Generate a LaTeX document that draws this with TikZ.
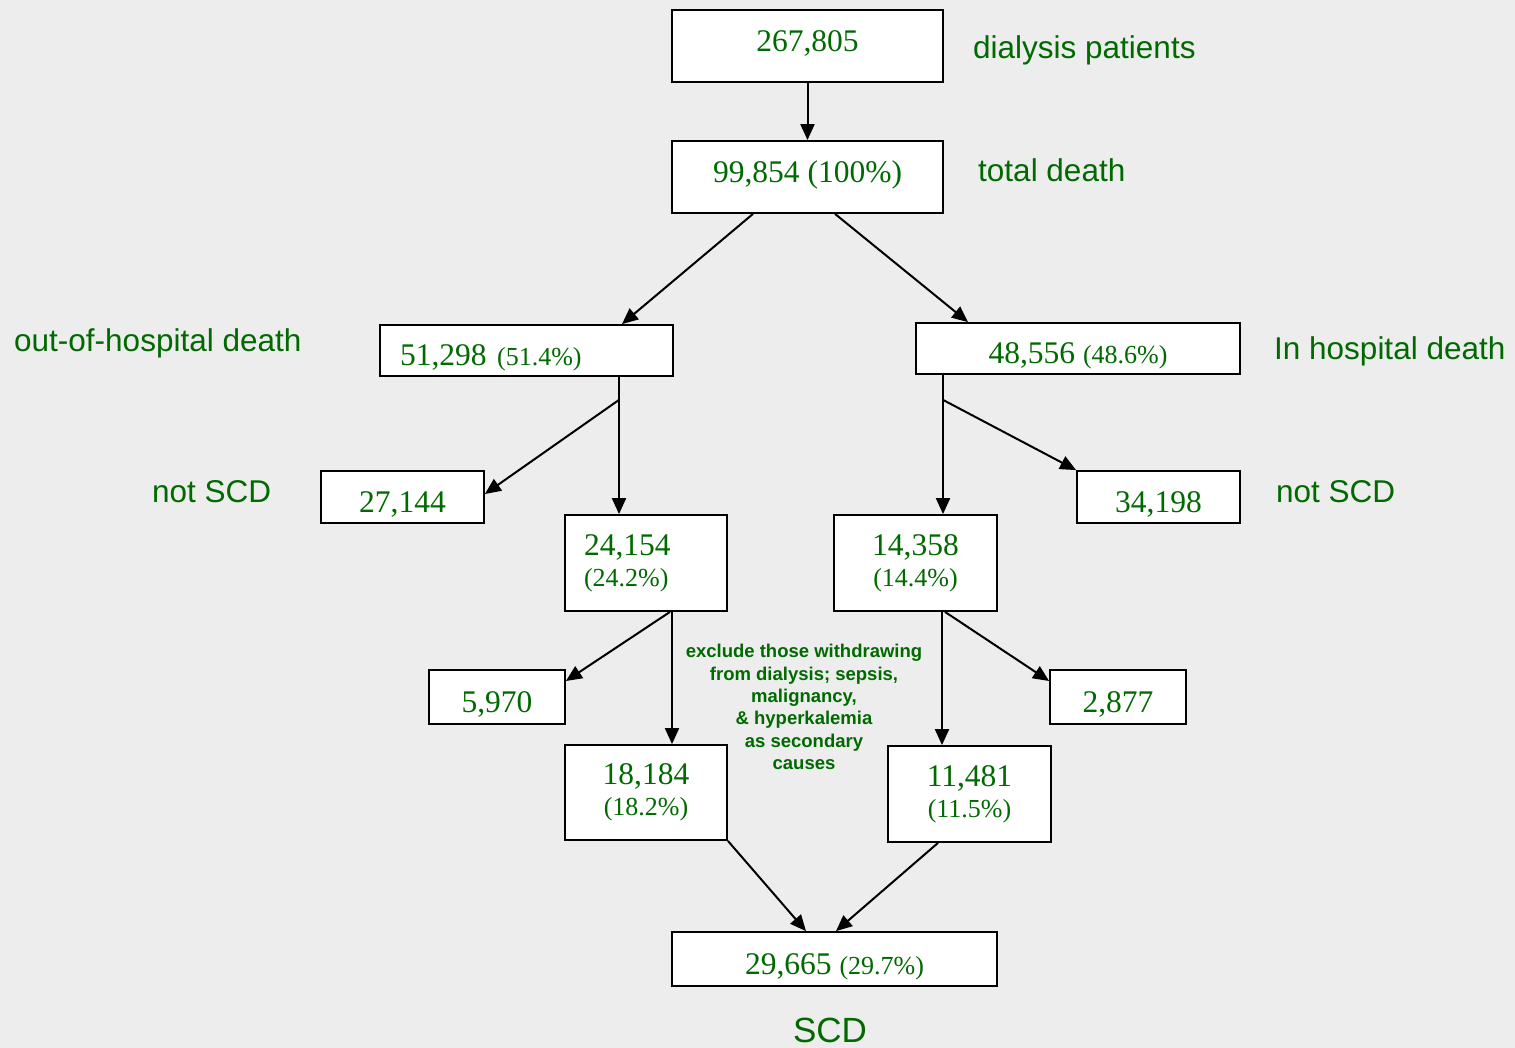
\documentclass[tikz,border=0pt]{standalone}
\usepackage{fontspec}
\setmainfont{Liberation Serif}
\setsansfont{Liberation Sans}
\usetikzlibrary{arrows.meta}
\definecolor{darkgreen}{RGB}{0,105,0}
\definecolor{paper}{RGB}{237,237,237}
\newcommand{\pct}[1]{{\fontsize{26}{30}\selectfont #1}}
\tikzset{
  numbox/.style={
    rectangle,
    draw,
    fill=white,
    line width=1.8pt,
    inner sep=0pt,
    align=center,
    text=darkgreen,
    font=\rmfamily\fontsize{31.5}{34}\selectfont
  },
  high/.style={text height=22pt, text depth=10pt},
  low/.style={text height=35pt, text depth=5pt},
  arrow/.style={-{Triangle[length=16pt,width=14pt]}, line width=2pt},
  note/.style={anchor=west, inner xsep=0pt, text=darkgreen, font=\sffamily\fontsize{31.5}{36}\selectfont},
  remark/.style={align=center, text=darkgreen, font=\sffamily\bfseries\fontsize{18.5}{22.4}\selectfont}
}

\begin{document}
\begin{tikzpicture}[x=1pt,y=-1pt]
\fill[paper] (0,0) rectangle (1515,1048);
\useasboundingbox (0,0) rectangle (1515,1048);

\node[numbox, high, minimum width=271pt, minimum height=72pt] (patients) at (807.5,46) {267,805};
\node[numbox, high, minimum width=271pt, minimum height=72pt] (death) at (807.5,177) {99,854 (100\%)};
\node[numbox, low, minimum width=293pt, minimum height=51pt, text width=253pt, align=left] (outhosp) at (526.5,350.5) {51,298 \pct{(51.4\%)}};
\node[numbox, low, minimum width=324pt, minimum height=51pt] (inhosp) at (1078,348.5) {48,556 \pct{(48.6\%)}};
\node[numbox, low, minimum width=163pt, minimum height=52pt] (outnot) at (402.5,497) {27,144};
\node[numbox, low, minimum width=163pt, minimum height=52pt] (innot) at (1158.5,497) {34,198};
\node[numbox, minimum width=162pt, minimum height=96pt, text width=124pt, align=left] (outscd) at (646,563) {24,154\\[-3pt]\pct{(24.2\%)}};
\node[numbox, minimum width=163pt, minimum height=96pt] (inscd) at (915.5,563) {14,358\\[-3pt]\pct{(14.4\%)}};
\node[numbox, low, minimum width=136pt, minimum height=54pt] (outexcl) at (497,697) {5,970};
\node[numbox, low, minimum width=136pt, minimum height=54pt] (inexcl) at (1118,697) {2,877};
\node[numbox, minimum width=162pt, minimum height=95pt] (outfinal) at (646,792.5) {18,184\\[-3pt]\pct{(18.2\%)}};
\node[numbox, minimum width=163pt, minimum height=96pt] (infinal) at (969.5,794) {11,481\\[-3pt]\pct{(11.5\%)}};
\node[numbox, low, minimum width=325pt, minimum height=54pt] (scd) at (834.5,959) {29,665 \pct{(29.7\%)}};

\node[note] (lpatients) at (973,50) {dialysis patients};
\node[note] (ldeath) at (978,170) {total death};
\node[note] (louthosp) at (14,343) {out-of-hospital death};
\node[note] (linhosp) at (1274,351) {In hospital death};
\node[note] (loutnot) at (152,492) {not SCD};
\node[note] (linnot) at (1276,492) {not SCD};
\node[note, anchor=center, font=\sffamily\fontsize{35}{40}\selectfont] (lscd) at (830,1030) {SCD};
\node[remark] (excl) at (804,707) {exclude those withdrawing\\from dialysis; sepsis,\\malignancy,\\\& hyperkalemia\\as secondary\\causes};

\draw[arrow] (patients) -- (death);
\draw[arrow] ([xshift=-54.5pt]death.south) -- ([xshift=95.5pt]outhosp.north);
\draw[arrow] ([xshift=27.5pt]death.south) -- ([xshift=-110pt]inhosp.north);
\draw[arrow] ([xshift=92.5pt]outhosp.south) -- ([xshift=-27pt]outscd.north);
\draw[arrow] ([xshift=92.5pt,yshift=-23pt]outhosp.south) -- ([yshift=3pt]outnot.east);
\draw[arrow] ([xshift=-135pt]inhosp.south) -- ([xshift=27.5pt]inscd.north);
\draw[arrow] ([xshift=-135pt,yshift=-25pt]inhosp.south) -- (innot.north west);
\draw[arrow] ([xshift=24pt]outscd.south) -- ([yshift=16pt]outexcl.east);
\draw[arrow] ([xshift=26pt]outscd.south) -- ([xshift=26pt]outfinal.north);
\draw[arrow] ([xshift=26.5pt]inscd.south) -- ([xshift=-27.5pt]infinal.north);
\draw[arrow] ([xshift=29.5pt]inscd.south) -- ([yshift=16pt]inexcl.west);
\draw[arrow] (outfinal.south east) -- ([xshift=-28.5pt]scd.north);
\draw[arrow] ([xshift=-31.5pt]infinal.south) -- ([xshift=1.5pt]scd.north);
\end{tikzpicture}
\end{document}
